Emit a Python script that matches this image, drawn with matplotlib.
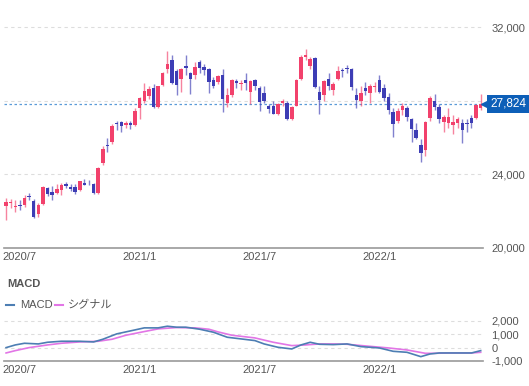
import numpy as np
import matplotlib.pyplot as plt
from matplotlib.transforms import blended_transform_factory

# weekly candles, week 0 = 2020-06-15
opens = [22300, 22450, 22200, 22350, 22350, 22800, 22550, 21850, 22400, 23250,
         23050, 23000, 23150, 23450, 23300, 23300, 23150, 23550, 23550, 23500,
         23000, 24600, 25600, 25750, 26800, 26850, 26700, 26800, 26700, 27600,
         28000, 28250, 28700, 27650, 28850, 29700, 30200, 29600, 29200, 29900,
         29500, 29400, 30100, 29850, 29700, 29150, 29000, 29400, 27900, 28300,
         29050, 28900, 29100, 28500, 29100, 28700, 28400, 27700, 27700, 27300,
         27900, 27900, 27000, 27700, 29200, 30400, 29900, 30300, 28500, 28300,
         29200, 28600, 29200, 29650, 29800, 29700, 28300, 28000, 28700, 28400,
         28750, 29100, 28700, 28200, 27400, 26900, 27500, 27600, 27000, 26400,
         25600, 25300, 27050, 28000, 27650, 26830, 26800, 26670, 26800, 26800,
         26800, 27050, 27050, 27600]
highs = [22700, 22650, 22600, 22600, 22900, 23000, 22650, 22450, 23350, 23300,
         23350, 23450, 23550, 23600, 23450, 23500, 23650, 23730, 23700, 23550,
         24400, 25550, 26000, 26750, 26900, 26900, 26900, 26900, 27600, 28200,
         28980, 28800, 28900, 28800, 29560, 30714, 30470, 29700, 29800, 30485,
         29550, 30100, 30200, 30000, 29800, 29300, 29400, 29700, 28700, 29200,
         29200, 29100, 29500, 29100, 29200, 28800, 28800, 27800, 28000, 27850,
         28100, 28000, 27700, 29200, 30500, 30795, 30400, 30400, 28800, 29150,
         29500, 29000, 29880, 29800, 29960, 29800, 28700, 28800, 29000, 28900,
         29000, 29400, 28900, 28400, 27600, 27600, 27900, 27700, 27050, 26800,
         25900, 26900, 28250, 28340, 27800, 27200, 27600, 27200, 27100, 27000,
         27000, 27200, 27800, 28389]
lows = [21530, 22150, 21950, 22050, 22250, 22600, 21650, 21700, 22350, 22800,
        22600, 22950, 22900, 23250, 23100, 22950, 23100, 23400, 23400, 22950,
        22950, 24500, 25200, 25650, 26400, 26300, 26500, 26450, 26650, 27000,
        27900, 28100, 27600, 27600, 28800, 29500, 28900, 28300, 28500, 29400,
        28380, 29200, 29500, 29400, 28420, 28700, 28900, 27390, 27660, 28200,
        28700, 28600, 28600, 27800, 28600, 27420, 27900, 27330, 27270, 27250,
        27700, 26950, 26950, 27700, 29100, 30200, 29700, 28700, 27293, 28000,
        28600, 28300, 29100, 29300, 29500, 28600, 27600, 27700, 28300, 27900,
        28500, 28400, 28000, 27300, 26044, 26800, 27200, 26900, 25775, 25900,
        24681, 25000, 26900, 27500, 26800, 26300, 26500, 26200, 26500, 25690,
        26300, 26500, 27000, 27500]
closes = [22478, 22512, 22306, 22290, 22696, 22751, 21710, 22329, 23289, 22920,
          22882, 23205, 23406, 23360, 23204, 23029, 23619, 23410, 23516, 22977,
          24325, 25385, 25527, 26644, 26751, 26652, 26763, 26656, 27444, 28139,
          28519, 28631, 27663, 28779, 29520, 30018, 28966, 28864, 29717, 29792,
          29176, 29854, 29768, 29683, 29020, 28812, 29357, 28084, 28317, 29149,
          28941, 28948, 28964, 29066, 28783, 27940, 28003, 27548, 27283, 27820,
          27977, 27013, 27641, 29128, 30381, 30500, 30248, 28771, 28049, 29069,
          28805, 28893, 29612, 29610, 29745, 28752, 28030, 28437, 28546, 28782,
          28792, 28479, 28124, 27522, 26717, 27440, 27696, 27122, 26476, 25985,
          25163, 26827, 28149, 27666, 26985, 27093, 27105, 26848, 27003, 26427,
          26739, 26781, 27761, 27824]

# MACD / signal (week index, value)
macd_weeks = [0, 2, 4, 7, 9, 12, 16, 19, 21, 24, 26, 28, 30, 33, 35, 37, 39, 42,
              45, 48, 51, 54, 56, 59, 62, 64, 66, 68, 71, 74, 77, 81, 84, 87, 90,
              92, 94, 98, 101, 103]
macd_vals = [0, 200, 325, 275, 400, 475, 475, 425, 625, 1025, 1175, 1325, 1475,
             1475, 1600, 1525, 1525, 1375, 1150, 775, 650, 525, 275, 25, -100,
             200, 400, 250, 225, 275, 75, -25, -275, -350, -675, -475, -400, -400,
             -400, -225]
signal_weeks = [0, 2, 5, 9, 12, 16, 20, 23, 26, 30, 33, 37, 41, 44, 46, 49, 54,
                58, 62, 65, 68, 71, 74, 78, 83, 87, 91, 93, 96, 101, 103]
signal_vals = [-400, -225, 0, 200, 325, 425, 475, 625, 925, 1200, 1400, 1500,
               1475, 1375, 1175, 925, 725, 400, 150, 200, 275, 275, 250, 125,
               -25, -175, -425, -425, -400, -400, -350]

tick_weeks = [3, 29, 55, 81]
tick_labels = ["2020/7", "2021/1", "2021/7", "2022/1"]

UP = "#f2416c"
DOWN = "#3d3db5"
GRID = "#dddddd"
TXT = "#555555"
TAG = "#0d5fb8"

plt.rcParams['font.family'] = ['Liberation Sans', 'Noto Sans CJK JP']

W, H = 529, 386
fig = plt.figure(figsize=(W / 100, H / 100), dpi=100)

def px_axes(x0, y0, x1, y1):
    return fig.add_axes([x0 / W, 1 - y1 / H, (x1 - x0) / W, (y1 - y0) / H])

ax = px_axes(4, 5, 483, 248)
ax2 = px_axes(4, 315.5, 483, 361)

o = np.array(opens); h = np.array(highs); l = np.array(lows); c = np.array(closes)
x = np.arange(len(c))
up = c >= o
cols = np.where(up, UP, DOWN)

ax.vlines(x, l, h, colors=cols, linewidth=1.0, alpha=0.65, zorder=2)
body = np.maximum(np.abs(c - o), 40)
ax.bar(x, body, bottom=np.minimum(o, c), width=0.76, color=cols, zorder=3)

xlim = (-0.45, 103.5)
for a in (ax, ax2):
    a.set_xlim(*xlim)
    for s in ("top", "right", "left"):
        a.spines[s].set_visible(False)
    a.spines["bottom"].set_color("#999999")
    a.spines["bottom"].set_linewidth(1.2)
    a.yaxis.tick_right()
    a.tick_params(axis="both", length=0, labelsize=8, colors=TXT)
    a.set_xticks(tick_weeks)
    a.set_xticklabels(tick_labels)
    a.tick_params(axis="y", pad=6)
    a.tick_params(axis="x", pad=3)

ax.set_ylim(20000, 33200)
ax.set_yticks([20000, 24000, 28000, 32000])
ax.set_yticklabels(["20,000", "24,000", "", "32,000"])
for yv in [24000, 28000, 32000]:
    ax.axhline(yv, color=GRID, lw=0.8, ls=(0, (3, 3)), zorder=1)

# last price line + tag
last = closes[-1]
ax.axhline(last, color="#5a9bd8", lw=0.9, ls=(0, (2, 2)), zorder=1)
tr = blended_transform_factory(ax.transAxes, ax.transData)
ax.plot([1.006], [last], marker="<", ms=7, color=TAG, transform=tr,
        clip_on=False, zorder=5)
ax.text(1.016, last, f"{last:,}", transform=tr, ha="left", va="center",
        fontsize=8.5, color="white",
        bbox=dict(boxstyle="square,pad=0.28", fc=TAG, ec="none"),
        clip_on=False, zorder=6)

# MACD panel
ax2.set_ylim(-1000, 2400)
ax2.set_yticks([-1000, 0, 1000, 2000])
ax2.set_yticklabels(["-1,000", "0", "1,000", "2,000"])
for yv in [0, 1000, 2000]:
    ax2.axhline(yv, color=GRID, lw=0.8, ls=(0, (3, 3)), zorder=1)
ax2.plot(signal_weeks, signal_vals, color="#e276e6", lw=1.2, zorder=3)
ax2.plot(macd_weeks, macd_vals, color="#4d7eb3", lw=1.2, zorder=4)

fig.text(7 / W, 1 - 284 / H, "MACD", fontsize=8, fontweight="bold",
         color=TXT, va="center")
ly = 1 - 305 / H
fig.lines.append(plt.Line2D([6 / W, 14 / W], [ly, ly], color="#4d7eb3",
                            lw=1.5, transform=fig.transFigure))
fig.text(20 / W, ly, "MACD", fontsize=8, color=TXT, va="center")
fig.lines.append(plt.Line2D([55 / W, 63 / W], [ly, ly], color="#e276e6",
                            lw=1.5, transform=fig.transFigure))
fig.text(68 / W, ly, "シグナル", fontsize=8, color=TXT, va="center",
         family=["Noto Sans CJK JP", "Liberation Sans"])

fig.savefig("out.png", dpi=100)
